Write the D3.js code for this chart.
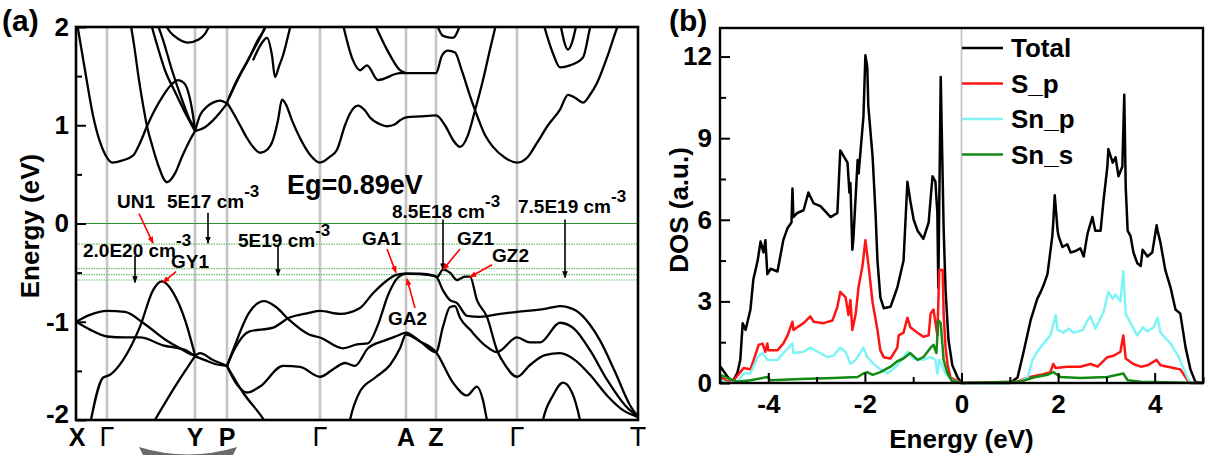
<!DOCTYPE html>
<html>
<head>
<meta charset="utf-8">
<script src="https://cdn.jsdelivr.net/npm/d3@7"></script>
<style>
  body { margin: 0; background: #fff; }
  svg text { font-family: Arial, "Liberation Sans", sans-serif; }
</style>
</head>
<body>
<svg id="fig" width="1208" height="455"></svg>
<script>
// ---------- band structure data (k along path, E in eV) ----------
const kTicks = [0, 0.31, 1.19, 1.51, 2.44, 3.30, 3.60, 4.41, 5.62];
const kLabels = ["X", "Γ", "Y", "P", "Γ", "A", "Z", "Γ", "T"];
const fermiLevels = [-0.21, -0.46, -0.52, -0.575];

const bandV1 = [[0,-1.00],[0.14,-0.93],[0.31,-0.89],[0.49,-0.90],[0.67,-1.01],[0.89,-1.18],[1.04,-1.27],[1.19,-1.34],[1.24,-1.32],[1.37,-1.39],[1.51,-1.45]];
const bandV2 = [[0,-1.00],[0.14,-1.08],[0.31,-1.15],[0.49,-1.16],[0.64,-1.16],[0.87,-1.24],[1.10,-1.29],[1.19,-1.35],[1.29,-1.39],[1.39,-1.43],[1.51,-1.45]];
const bandV3 = [[0.13,-2.1],[0.27,-1.57],[0.34,-1.54],[0.47,-1.39],[0.64,-1.05],[0.77,-0.68],[0.86,-0.59],[0.97,-0.70],[1.09,-0.98],[1.19,-1.34]];
const bandV4 = [[0.76,-2.05],[0.99,-1.66],[1.19,-1.35]];
const bandP1 = [[1.51,-1.45],[1.67,-1.72],[1.88,-2.0],[1.94,-2.1]];
const bandV5 = [[1.51,-1.45],[1.61,-1.64],[1.71,-1.72],[1.84,-1.66],[2.07,-1.45],[2.24,-1.46],[2.44,-1.56],
  [2.59,-1.47],[2.69,-1.42],[2.79,-1.45],[2.92,-1.27],[3.09,-1.19],[3.22,-1.14],[3.30,-1.11],[3.44,-1.20],[3.60,-1.31],
  [3.67,-1.05],[3.74,-0.85],[3.79,-0.84],[3.84,-0.96],[3.94,-1.08],[4.09,-1.24],[4.21,-1.31],[4.41,-1.16],
  [4.54,-1.21],[4.64,-1.21],[4.84,-1.01],[4.99,-1.08],[5.14,-1.29],[5.31,-1.59],[5.49,-1.85],[5.62,-1.97]];
const bandV6 = [[1.51,-1.45],[1.57,-1.29],[1.73,-0.91],[1.88,-0.79],[2.00,-0.85],[2.13,-0.98],[2.33,-1.13],[2.44,-1.16],
  [2.67,-1.27],[2.81,-1.23],[2.92,-1.22],[3.02,-1.03],[3.12,-0.73],[3.22,-0.55],[3.30,-0.51],[3.44,-0.515],[3.60,-0.54],
  [3.67,-0.68],[3.74,-0.78],[3.81,-0.81],[3.91,-0.94],[4.04,-0.95],[4.24,-0.92],[4.41,-0.90],[4.69,-0.87],[4.84,-0.84],
  [4.99,-0.88],[5.14,-1.03],[5.24,-1.19],[5.39,-1.51],[5.54,-1.85],[5.62,-1.97]];
const bandV7 = [[1.51,-1.45],[1.59,-1.27],[1.73,-1.10],[1.97,-1.06],[2.13,-0.96],[2.33,-0.91],[2.44,-0.89],
  [2.64,-0.92],[2.84,-0.86],[2.97,-0.71],[3.11,-0.58],[3.21,-0.52],[3.30,-0.51],[3.44,-0.51],[3.58,-0.53],[3.61,-0.545],
  [3.67,-0.47],[3.74,-0.50],[3.81,-0.575],[3.89,-0.54],[3.94,-0.54],[4.01,-0.78],[4.11,-0.95],[4.21,-1.29],[4.29,-1.44],[4.41,-1.56],
  [4.54,-1.44],[4.69,-1.34],[4.84,-1.32],[4.99,-1.39],[5.14,-1.54],[5.31,-1.75],[5.47,-1.90],[5.62,-1.97]];
const bandV8 = [[2.72,-2.1],[2.74,-2.0],[2.84,-1.71],[2.99,-1.57],[3.14,-1.44],[3.24,-1.27],[3.30,-1.13],[3.44,-1.20],[3.60,-1.31],
  [3.77,-1.62],[3.91,-1.75],[4.01,-1.66],[4.07,-1.80],[4.11,-2.0],[4.15,-2.15]];
const bandV9 = [[4.65,-2.1],[4.67,-2.0],[4.77,-1.75],[4.87,-1.62],[4.96,-1.72],[5.04,-2.0],[5.06,-2.1]];

const bandC1 = [[0.0,2.1],[0.09,1.56],[0.17,1.10],[0.24,0.83],[0.31,0.67],[0.36,0.62],[0.46,0.64],[0.57,0.69],[0.64,0.82],[0.71,0.99],[0.79,1.16],[0.87,1.30],[0.96,1.42],[1.02,1.46],[1.08,1.43],[1.13,1.31],[1.17,1.10],[1.19,0.95]];
const bandC2 = [[0.54,2.07],[0.58,1.82],[0.63,1.46],[0.67,1.21],[0.71,0.99],[0.76,0.80],[0.82,0.60],[0.91,0.42],[0.99,0.51],[1.06,0.68],[1.14,0.85],[1.19,0.94]];
const bandC3 = [[0.74,2.07],[0.81,1.82],[0.89,1.56],[0.99,1.34],[1.09,1.13],[1.19,0.94]];
const bandC4 = [[0.80,2.07],[0.87,1.87],[0.96,1.56],[1.06,1.26],[1.14,1.05],[1.19,0.97]];
const bandC5 = [[0.88,2.05],[0.94,1.95],[1.02,1.88],[1.12,1.84],[1.22,1.87],[1.29,1.93],[1.35,2.05]];
const bandC6 = [[1.19,0.94],[1.24,1.10],[1.31,1.19],[1.37,1.23],[1.44,1.25],[1.51,1.22]];
const bandC7 = [[1.19,0.94],[1.29,0.98],[1.37,1.05],[1.44,1.13],[1.51,1.22]];
const bandC8 = [[1.51,1.23],[1.57,1.13],[1.64,1.00],[1.71,0.87],[1.77,0.78],[1.84,0.72],[1.91,0.75],[1.97,0.85],[2.02,1.05],[2.06,1.26],[2.10,1.21],[2.16,1.05],[2.24,0.87],[2.34,0.70],[2.44,0.62],
  [2.54,0.68],[2.61,0.75],[2.69,1.00],[2.74,1.12],[2.82,1.20],[2.89,1.15],[2.94,1.08],[3.04,1.01],[3.11,0.99],[3.19,1.01],[3.24,1.05],[3.30,1.08],[3.44,1.09],[3.60,1.10],
  [3.69,1.00],[3.77,0.85],[3.84,0.78],[3.92,0.90],[3.99,1.15],[4.07,1.46],[4.14,1.77],[4.21,2.07]];
const bandC9 = [[1.51,1.23],[1.61,1.46],[1.72,1.66],[1.82,1.87],[1.89,1.99],[1.92,2.07]];
const bandC10 = [[1.53,1.28],[1.64,1.51],[1.76,1.74],[1.86,1.93],[1.92,2.07]];
const bandC11 = [[1.77,1.66],[1.86,1.84],[1.91,1.89],[1.96,1.71],[1.99,1.49],[2.03,1.60],[2.07,1.71],[2.14,1.99],[2.16,2.07]];
const bandC12 = [[2.66,2.07],[2.77,1.66],[2.84,1.56],[2.91,1.61],[3.02,1.46],[3.24,1.53],[3.30,1.53],[3.44,1.53],[3.60,1.53],
  [3.66,1.71],[3.72,1.76],[3.79,1.74],[3.86,1.55],[3.94,1.30],[4.01,1.10],[4.09,0.90],[4.17,0.78],[4.29,0.67],[4.41,0.62],
  [4.52,0.68],[4.61,0.82],[4.72,1.00],[4.84,1.16],[4.92,1.31],[4.99,1.28],[5.07,1.23],[5.14,1.31],[5.21,1.43],[5.31,1.69],[5.41,1.99],[5.44,2.07]];
const bandC13 = [[2.97,2.07],[3.11,1.77],[3.24,1.56],[3.30,1.53]];
const bandC14 = [[3.60,2.05],[3.67,1.91],[3.77,1.89],[3.85,2.05]];
const bandC15 = [[4.67,2.05],[4.77,1.73],[4.84,1.59],[4.94,1.61],[5.07,1.69],[5.14,1.99],[5.16,2.07]];
const bandC16 = [[4.84,2.05],[4.92,1.77],[5.01,2.05]];

const bands = [bandV1, bandV2, bandV3, bandV4, bandP1, bandV5, bandV6, bandV7, bandV8, bandV9,
  bandC1, bandC2, bandC3, bandC4, bandC5, bandC6, bandC7, bandC8, bandC9, bandC10, bandC11, bandC12, bandC13, bandC14, bandC15, bandC16];

// carrier concentration markers: label, text k, text E, arrow k, arrow from E, arrow to E
const concNames = ["5E17 cm", "2.0E20 cm", "5E19 cm", "8.5E18 cm", "7.5E19 cm"];
const concText = [[0.91, 0.16], [0.07, -0.34], [1.62, -0.24], [3.16, 0.06], [4.42, 0.11]];
const concArrow = [[1.32, 0.11, -0.20], [0.59, -0.33, -0.60], [2.02, -0.22, -0.53], [3.67, 0.04, -0.47], [4.89, 0.04, -0.55]];

// band-edge labels (red arrows)
const edgeNames = ["UN1", "GY1", "GA1", "GA2", "GZ1", "GZ2"];
const edgeText = [[0.41, 0.16], [0.95, -0.45], [2.86, -0.22], [3.12, -1.03], [3.81, -0.22], [4.16, -0.39]];
const edgeArrow = [[0.63, 0.10, 0.77, -0.20], [1.00, -0.49, 0.87, -0.60], [3.11, -0.26, 3.20, -0.50],
  [3.39, -0.86, 3.31, -0.565], [3.84, -0.26, 3.67, -0.47], [4.16, -0.42, 3.94, -0.545]];

// ---------- DOS data (energy eV, DOS a.u.) ----------
const dosTotal = [[-4.99,0.6],[-4.84,0.22],[-4.74,0.05],[-4.64,0.37],[-4.58,0.85],[-4.53,2.2],[-4.47,1.95],[-4.37,2.7],[-4.31,3.8],[-4.22,4.5],[-4.16,5.2],[-4.10,4.8],[-4.06,5.25],[-4.02,4.0],[-3.95,4.2],[-3.81,4.1],[-3.69,5.25],[-3.60,5.7],[-3.52,5.9],[-3.50,7.15],[-3.48,6.1],[-3.40,6.25],[-3.27,6.35],[-3.17,7.0],[-3.06,6.6],[-2.92,6.5],[-2.71,6.1],[-2.57,6.25],[-2.51,8.55],[-2.36,8.1],[-2.32,7.0],[-2.30,7.35],[-2.26,4.9],[-2.24,5.25],[-2.15,8.2],[-2.13,7.7],[-2.03,9.8],[-1.99,12.05],[-1.95,11.6],[-1.93,10.2],[-1.84,8.3],[-1.78,6.25],[-1.74,4.5],[-1.68,3.15],[-1.61,2.75],[-1.47,2.8],[-1.33,3.5],[-1.20,4.5],[-1.12,7.4],[-1.06,6.7],[-0.99,6.0],[-0.91,5.6],[-0.79,5.3],[-0.68,5.9],[-0.60,7.6],[-0.54,7.4],[-0.50,6.25],[-0.48,3.5],[-0.43,11.25],[-0.37,5.7],[-0.33,3.4],[-0.27,1.6],[-0.19,0.65],[-0.08,0.2],[0,0],
  [1.0,0],[1.16,0.2],[1.28,1.1],[1.43,2.3],[1.57,3.1],[1.64,3.35],[1.70,3.6],[1.78,4.0],[1.88,5.4],[1.90,5.9],[1.93,6.9],[1.99,5.6],[2.01,5.4],[2.09,5.0],[2.19,5.1],[2.26,4.8],[2.36,4.85],[2.46,4.95],[2.53,4.65],[2.61,5.5],[2.71,6.1],[2.77,5.6],[2.88,5.6],[2.94,6.7],[3.02,7.95],[3.04,8.6],[3.13,8.1],[3.19,8.3],[3.25,7.6],[3.33,7.95],[3.37,10.6],[3.40,7.2],[3.44,5.6],[3.50,5.4],[3.56,4.8],[3.64,4.4],[3.71,4.3],[3.75,4.9],[3.85,4.65],[3.95,4.8],[4.04,5.8],[4.06,5.6],[4.12,5.15],[4.22,4.15],[4.33,3.5],[4.43,2.7],[4.53,2.55],[4.64,1.3],[4.74,0.5],[4.84,0.05],[5,0]];
const dosSp = [[-4.99,0.22],[-4.84,0.05],[-4.72,0.1],[-4.58,0.4],[-4.51,0.55],[-4.37,0.5],[-4.31,0.8],[-4.20,1.4],[-4.12,1.45],[-4.06,1.15],[-4.02,1.45],[-4.00,1.2],[-3.81,1.2],[-3.69,1.45],[-3.60,1.75],[-3.50,2.25],[-3.48,1.95],[-3.40,2.05],[-3.27,2.2],[-3.13,2.45],[-3.06,2.25],[-2.86,2.2],[-2.67,2.3],[-2.57,2.8],[-2.51,3.35],[-2.40,3.15],[-2.34,2.5],[-2.30,3.05],[-2.26,1.95],[-2.19,2.55],[-2.13,3.55],[-2.05,4.3],[-1.99,5.25],[-1.93,4.4],[-1.84,2.95],[-1.74,1.95],[-1.68,1.2],[-1.61,0.95],[-1.47,0.9],[-1.33,1.3],[-1.30,1.75],[-1.20,1.85],[-1.12,2.4],[-1.06,2.05],[-0.91,1.85],[-0.79,1.7],[-0.68,1.75],[-0.64,2.55],[-0.58,2.7],[-0.50,1.75],[-0.46,4.15],[-0.39,4.15],[-0.37,2.55],[-0.33,1.3],[-0.29,0.7],[-0.23,0.2],[0,0],
  [1.16,0.05],[1.37,0.2],[1.64,0.3],[1.84,0.4],[1.90,0.7],[1.95,0.55],[2.19,0.6],[2.46,0.6],[2.67,0.7],[2.82,0.6],[3.02,0.95],[3.15,1.0],[3.29,1.15],[3.35,1.75],[3.40,0.9],[3.56,0.7],[3.71,0.6],[3.85,0.65],[4.04,0.85],[4.12,0.65],[4.39,0.55],[4.53,0.5],[4.68,0.1],[4.74,0],[5,0]];
const dosSnp = [[-4.99,0.1],[-4.84,0],[-4.64,0.05],[-4.51,0.35],[-4.37,0.35],[-4.22,0.95],[-4.12,1.1],[-4.02,0.85],[-3.81,0.85],[-3.69,1.1],[-3.50,1.45],[-3.48,1.1],[-3.27,1.15],[-3.13,1.3],[-2.98,1.15],[-2.77,0.95],[-2.65,1.0],[-2.51,1.3],[-2.40,1.15],[-2.30,0.7],[-2.19,0.85],[-2.03,1.3],[-1.95,0.95],[-1.82,0.7],[-1.68,0.5],[-1.53,0.35],[-1.33,0.65],[-1.12,1.15],[-0.99,0.9],[-0.79,0.85],[-0.64,0.95],[-0.54,0.85],[-0.50,0.35],[-0.46,0.85],[-0.39,0.6],[-0.33,0.35],[-0.2,0.1],[0,0],
  [1.16,0],[1.37,0.2],[1.47,0.85],[1.57,1.15],[1.70,1.45],[1.84,1.75],[1.95,2.5],[1.99,1.95],[2.11,1.85],[2.22,2.0],[2.32,1.85],[2.51,1.95],[2.61,2.3],[2.67,2.45],[2.77,2.0],[2.94,2.6],[3.04,3.35],[3.13,3.1],[3.19,3.25],[3.29,3.0],[3.35,4.1],[3.40,2.55],[3.50,2.2],[3.64,1.75],[3.75,2.05],[3.85,1.9],[3.98,2.05],[4.06,2.4],[4.12,1.85],[4.33,1.45],[4.50,0.95],[4.58,0.6],[4.68,0.2],[4.74,0],[5,0]];
const dosSns = [[-4.99,0.3],[-4.84,0.18],[-4.64,0.05],[-4.37,0.1],[-4.02,0.22],[-3.95,0.1],[-3.33,0.15],[-2.65,0.18],[-2.15,0.22],[-2.03,0.35],[-1.95,0.4],[-1.84,0.3],[-1.68,0.4],[-1.47,0.6],[-1.33,0.8],[-1.20,0.9],[-1.06,1.1],[-0.91,0.85],[-0.79,0.95],[-0.64,1.3],[-0.58,1.4],[-0.52,1.1],[-0.48,2.3],[-0.43,2.2],[-0.37,0.85],[-0.29,0.35],[-0.2,0.08],[0,0],
  [1.22,0.05],[1.49,0.2],[1.78,0.3],[1.90,0.4],[2.05,0.22],[2.46,0.18],[3.02,0.22],[3.35,0.35],[3.44,0.1],[3.71,0.05],[4.39,0.02],[5,0]];

const dosSeries = [
  { name: "Total", color: "#000000", values: dosTotal },
  { name: "S_p", color: "#ff1414", values: dosSp },
  { name: "Sn_p", color: "#80f4f4", values: dosSnp },
  { name: "Sn_s", color: "#138a13", values: dosSns }
];
const dosYTicks = [0, 3, 6, 9, 12];
const dosXTicks = [-4, -2, 0, 2, 4];

// ---------- drawing ----------
const svg = d3.select("#fig");
const bold = "bold";

// panel (a)
const xa = d3.scaleLinear().domain([0, 5.62]).range([76, 638]);
const ya = d3.scaleLinear().domain([-2, 2]).range([420, 27]);

svg.append("defs").append("clipPath").attr("id", "clipA")
  .append("rect").attr("x", 76).attr("y", 27).attr("width", 562).attr("height", 393);

const defs = svg.select("defs");
function marker(id, color) {
  defs.append("marker").attr("id", id).attr("viewBox", "0 0 10 10")
    .attr("refX", 9).attr("refY", 5).attr("markerWidth", 7).attr("markerHeight", 7)
    .attr("markerUnits", "userSpaceOnUse").attr("orient", "auto")
    .append("path").attr("d", "M0,1 L10,5 L0,9 Z").attr("fill", color);
}
marker("arrBlack", "#000");
marker("arrRed", "#ff0000");

const ga = svg.append("g");

// high-symmetry lines
ga.selectAll("line.sym").data(kTicks.slice(1, -1)).join("line")
  .attr("x1", d => xa(d)).attr("x2", d => xa(d))
  .attr("y1", ya(2)).attr("y2", ya(-2))
  .attr("stroke", "#c4c4c4").attr("stroke-width", 2.6);

// Fermi level and dotted lines
ga.append("line").attr("x1", xa(0)).attr("x2", xa(5.62)).attr("y1", ya(0)).attr("y2", ya(0))
  .attr("stroke", "#2f8f2f").attr("stroke-width", 1.1);
ga.selectAll("line.fl").data(fermiLevels).join("line")
  .attr("x1", xa(0)).attr("x2", xa(5.62)).attr("y1", d => ya(d)).attr("y2", d => ya(d))
  .attr("stroke", "#70c070").attr("stroke-width", 1.2).attr("stroke-dasharray", "1.5,1");

// bands
const bandLine = d3.line().x(d => xa(d[0])).y(d => ya(d[1])).curve(d3.curveMonotoneX);
ga.append("g").attr("clip-path", "url(#clipA)")
  .selectAll("path").data(bands).join("path")
  .attr("d", bandLine).attr("fill", "none").attr("stroke", "#000").attr("stroke-width", 2.3);

// frame
ga.append("rect").attr("x", 76).attr("y", 27).attr("width", 562).attr("height", 393)
  .attr("fill", "none").attr("stroke", "#000").attr("stroke-width", 2.6);

// y axis (inner ticks)
const yAxisA = d3.axisLeft(ya).tickValues([-2, -1.5, -1, -0.5, 0, 0.5, 1, 1.5, 2])
  .tickSize(-8).tickFormat(d => Number.isInteger(d) ? d : "");
const gy = ga.append("g").attr("transform", "translate(76,0)").call(yAxisA);
gy.select(".domain").remove();
gy.selectAll(".tick line").attr("stroke-width", 2).attr("x2", d => Number.isInteger(d) ? 10 : 6);
gy.selectAll(".tick text").attr("x", -7).attr("font-size", 26).attr("font-weight", bold)
  .attr("font-family", "Arial, sans-serif").attr("fill", "#000");
gy.selectAll(".tick").filter(d => d === -2).select("text").attr("dy", "0.1em");

// k labels
ga.selectAll("text.k").data(kLabels).join("text")
  .attr("x", (d, i) => xa(kTicks[i]) + (i === 0 ? 1 : 0)).attr("y", 446)
  .attr("text-anchor", "middle")
  .attr("font-size", d => (d === "Γ" || d === "T") ? 27 : 25)
  .attr("font-weight", d => (d === "Γ" || d === "T") ? "normal" : bold)
  .attr("font-family", d => (d === "Γ" || d === "T") ? "'Liberation Serif', 'Times New Roman', serif" : "Arial, sans-serif")
  .text(d => d);

// y label
ga.append("text").attr("transform", "translate(39,226) rotate(-90)").attr("text-anchor", "middle")
  .attr("font-size", 26).attr("font-weight", bold).text("Energy (eV)");

// panel label
svg.append("text").attr("x", 2).attr("y", 31).attr("font-size", 30).attr("font-weight", bold).text("(a)");

// Eg label
ga.append("text").attr("x", xa(2.11)).attr("y", 194).attr("font-size", 27).attr("font-weight", bold).text("Eg=0.89eV");

// concentration arrows
concNames.forEach((name, i) => {
  const t = ga.append("text").attr("x", xa(concText[i][0])).attr("y", ya(concText[i][1]))
    .attr("font-size", 19).attr("font-weight", bold).text(name);
  t.append("tspan").attr("dy", -11).attr("font-size", 17).text("-3");
  const a = concArrow[i];
  ga.append("line").attr("x1", xa(a[0])).attr("x2", xa(a[0])).attr("y1", ya(a[1])).attr("y2", ya(a[2]))
    .attr("stroke", "#000").attr("stroke-width", 1.6).attr("marker-end", "url(#arrBlack)");
});

// band-edge arrows
edgeNames.forEach((name, i) => {
  ga.append("text").attr("x", xa(edgeText[i][0])).attr("y", ya(edgeText[i][1]))
    .attr("font-size", 19).attr("font-weight", bold).text(name);
  const a = edgeArrow[i];
  ga.append("line").attr("x1", xa(a[0])).attr("y1", ya(a[1])).attr("x2", xa(a[2])).attr("y2", ya(a[3]))
    .attr("stroke", "#ff0000").attr("stroke-width", 1.6).attr("marker-end", "url(#arrRed)");
});

// grey artefact below the axis
svg.append("path").attr("d", "M139,447 Q188,462 237,447 L233,455 L143,455 Z").attr("fill", "#6a6a6a");

// panel (b)
const xb = d3.scaleLinear().domain([-5, 5]).range([720, 1203]);
const yb = d3.scaleLinear().domain([0, 13.05]).range([383, 28]);
const gb = svg.append("g");

gb.append("line").attr("x1", xb(0)).attr("x2", xb(0)).attr("y1", yb(13.05)).attr("y2", yb(0))
  .attr("stroke", "#bdbdbd").attr("stroke-width", 1.6);

const dosLine = d3.line().x(d => xb(d[0])).y(d => yb(d[1]));
gb.selectAll("path.dos").data(dosSeries).join("path")
  .attr("d", d => dosLine(d.values)).attr("fill", "none")
  .attr("stroke", d => d.color).attr("stroke-width", 2.5).attr("stroke-linejoin", "round");

gb.append("rect").attr("x", 720).attr("y", 28).attr("width", 483).attr("height", 355)
  .attr("fill", "none").attr("stroke", "#000").attr("stroke-width", 2.4);

const yAxisB = d3.axisLeft(yb).tickValues(d3.range(0, 13.5, 1.5)).tickSize(-8)
  .tickFormat(d => dosYTicks.includes(d) ? d : "");
const gyb = gb.append("g").attr("transform", "translate(720,0)").call(yAxisB);
gyb.select(".domain").remove();
gyb.selectAll(".tick line").attr("stroke-width", 2).attr("x2", d => dosYTicks.includes(d) ? 10 : 6);
gyb.selectAll(".tick text").attr("x", -8).attr("font-size", 26).attr("font-weight", bold)
  .attr("font-family", "Arial, sans-serif").attr("fill", "#000");

const xAxisB = d3.axisBottom(xb).tickValues(d3.range(-5, 5.5, 1)).tickSize(-8)
  .tickFormat(d => dosXTicks.includes(d) ? d : "");
const gxb = gb.append("g").attr("transform", "translate(0,383)").call(xAxisB);
gxb.select(".domain").remove();
gxb.selectAll(".tick line").attr("stroke-width", 2).attr("y2", d => dosXTicks.includes(d) ? -10 : -6);
gxb.selectAll(".tick text").attr("y", 12).attr("font-size", 26).attr("font-weight", bold)
  .attr("font-family", "Arial, sans-serif").attr("fill", "#000");

gb.append("text").attr("x", xb(0)).attr("y", 448).attr("text-anchor", "middle")
  .attr("font-size", 26).attr("font-weight", bold).text("Energy (eV)");
gb.append("text").attr("transform", "translate(688,210) rotate(-90)").attr("text-anchor", "middle")
  .attr("font-size", 26).attr("font-weight", bold).text("DOS (a.u.)");
svg.append("text").attr("x", 669).attr("y", 31).attr("font-size", 30).attr("font-weight", bold).text("(b)");

// legend
const lg = gb.append("g");
dosSeries.forEach((s, i) => {
  const yy = 48 + i * 35.5;
  lg.append("line").attr("x1", 962).attr("x2", 1003).attr("y1", yy).attr("y2", yy)
    .attr("stroke", s.color).attr("stroke-width", 2.5);
  lg.append("text").attr("x", 1011).attr("y", yy + 9).attr("font-size", 26).attr("font-weight", bold).text(s.name);
});
</script>
</body>
</html>
